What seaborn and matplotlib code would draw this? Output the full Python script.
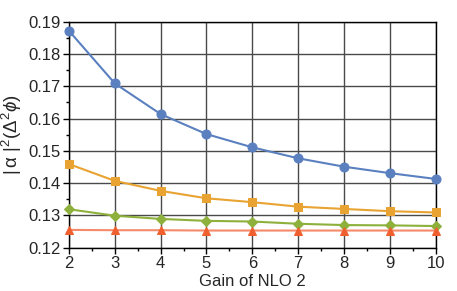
import pandas as pd
import matplotlib
matplotlib.use('Agg')
import matplotlib.pyplot as plt
import numpy as np
import seaborn as sns
from matplotlib.ticker import MultipleLocator

gain = [2, 3, 4, 5, 6, 7, 8, 9, 10]
blue_vals = [0.1872, 0.1709, 0.1614, 0.1552, 0.1511, 0.1477, 0.1451, 0.1431, 0.1413]
orange_vals = [0.1459, 0.1407, 0.1376, 0.1353, 0.1341, 0.1327, 0.1320, 0.1313, 0.1309]
green_vals = [0.1319, 0.1299, 0.1289, 0.1283, 0.1281, 0.1274, 0.1270, 0.1269, 0.1267]
red_vals = [0.1255, 0.1254, 0.1254, 0.1253, 0.1253, 0.1253, 0.1253, 0.1253, 0.1253]

sns.set_style('ticks')
plt.rcParams['font.family'] = ['Liberation Sans', 'DejaVu Sans']
plt.rcParams['mathtext.fontset'] = 'custom'
plt.rcParams['mathtext.rm'] = 'Liberation Sans'
plt.rcParams['mathtext.it'] = 'Liberation Sans:italic'

fig = plt.figure(figsize=(4.57, 2.91), dpi=100)
ax = fig.add_axes([0.151, 0.149, 0.802, 0.776])

series = [
    (blue_vals, '#5b80c0', '#5b80c0', 'o', 6.5),
    (orange_vals, '#e8a332', '#e8a332', 's', 5.5),
    (green_vals, '#8db13c', '#8db13c', 'D', 5),
    (red_vals, '#f58a6a', '#f0602e', '^', 5.5),
]
for vals, lc, mc, mk, ms in series:
    sns.lineplot(x=gain, y=vals, ax=ax, color=lc, lw=1.5, marker=mk,
                 markersize=ms, clip_on=False, zorder=3)
    # marker colour differs from the line for the red series
    ax.lines[-1].set_markerfacecolor(mc)
    ax.lines[-1].set_markeredgecolor(mc)

ax.set_xlim(2, 10)
ax.set_ylim(0.12, 0.19)
ax.xaxis.set_major_locator(MultipleLocator(1))
ax.xaxis.set_minor_locator(MultipleLocator(0.5))
ax.yaxis.set_minor_locator(MultipleLocator(0.005))
ax.set_yticks(np.arange(0.12, 0.1901, 0.01))
ax.set_yticklabels(['%.2f' % v for v in np.arange(0.12, 0.1901, 0.01)])

ax.grid(True, which='major', color='#4a4a4a', lw=1.0)
ax.set_axisbelow(True)
ax.tick_params(which='major', direction='out', length=4, width=1, labelsize=12,
               color='black', pad=2)
ax.tick_params(which='minor', direction='out', length=2.5, width=1, color='black')
for s in ax.spines.values():
    s.set_color('black')
    s.set_linewidth(1.0)
    s.set_visible(True)

ax.set_xlabel('Gain of NLO 2', fontsize=12, labelpad=2)
ax.set_ylabel(r'$|\,\mathrm{\alpha}\,\,|^2(\Delta^2\phi)$', fontsize=13.5, labelpad=3)

fig.savefig('out.png', dpi=100)
